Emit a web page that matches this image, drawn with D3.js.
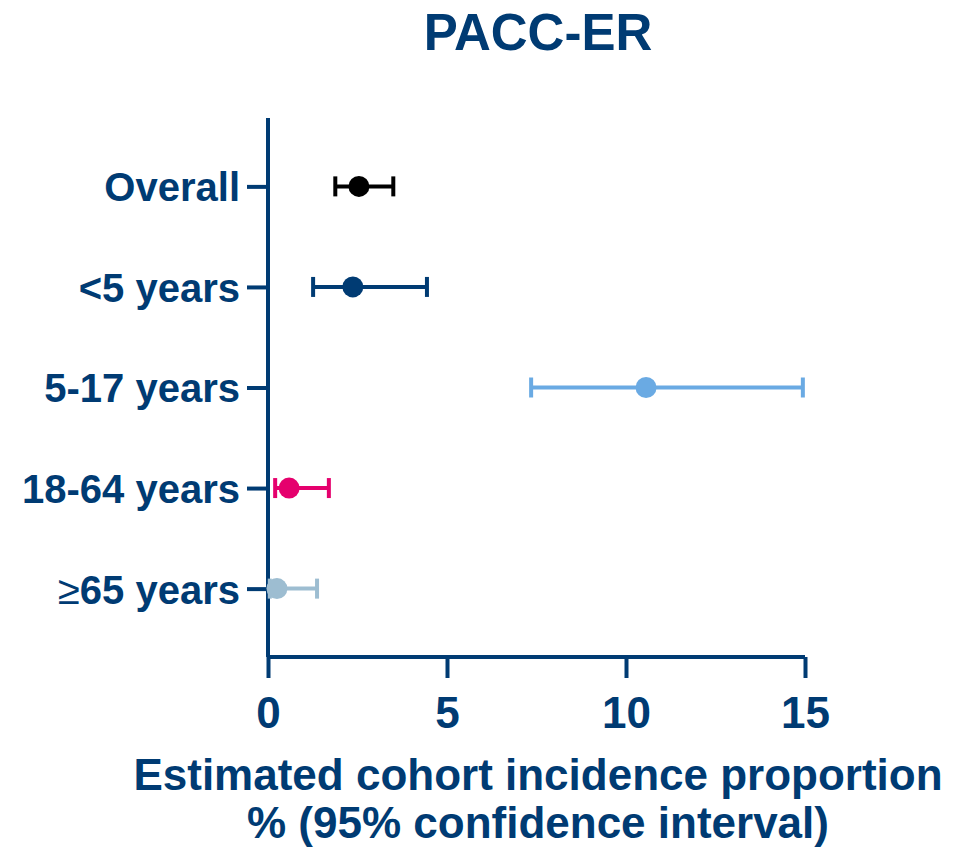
<!DOCTYPE html>
<html><head><meta charset="utf-8">
<script src="https://cdn.jsdelivr.net/npm/d3@7"></script>
<style>body{margin:0;background:#fff}svg{display:block}</style>
</head><body>
<script>
const categories = ["Overall", "<5 years", "5-17 years", "18-64 years", "\u226565 years"];
const estimates = [2.54, 2.37, 10.56, 0.59, 0.25];
const lower = [1.88, 1.26, 7.35, 0.2, 0.05];
const upper = [3.50, 4.44, 14.94, 1.70, 1.37];
const colors = ["#000000", "#003b73", "#6aaae3", "#e5006d", "#9dbdd1"];
const xTicks = [0, 5, 10, 15];

const W = 958, H = 848, navy = "#003b73";
const svg = d3.select("body").append("svg").attr("width", W).attr("height", H);
const x = d3.scaleLinear().domain([0, 15]).range([268, 805]);
const y = d3.scalePoint().domain(categories).range([118, 657]).padding(0.68);

const font = "Liberation Sans, Arial, sans-serif";

svg.append("text").attr("x", 538).attr("y", 50).attr("text-anchor", "middle")
  .attr("font-family", font).attr("font-weight", "bold").attr("font-size", 51)
  .attr("fill", navy).text("PACC-ER");

const ya = svg.append("g").attr("transform", "translate(268,0)")
  .call(d3.axisLeft(y).tickSize(21).tickPadding(7));
ya.select(".domain").attr("d", "M0,118V657");
const xa = svg.append("g").attr("transform", "translate(0,657)")
  .call(d3.axisBottom(x).tickValues(xTicks).tickSize(21).tickPadding(18).tickFormat(d3.format("d")));
xa.select(".domain").attr("d", "M268,0H805");
[ya, xa].forEach(g => {
  g.selectAll(".domain, .tick line").attr("stroke", navy).attr("stroke-width", 4);
  g.selectAll(".tick text").attr("fill", navy).attr("font-family", font)
    .attr("font-weight", "bold");
});
ya.selectAll(".tick text").attr("font-size", 40).attr("dy", "0.36em");
xa.selectAll(".tick text").attr("font-size", 44).attr("dy", "0.72em");
// render the ≥ glyph in a lighter weight, as in the reference
ya.selectAll(".tick text").filter(d => d.startsWith("\u2265")).each(function(d) {
  const t = d3.select(this).text("");
  t.append("tspan").attr("font-weight", "normal").text("\u2265");
  t.append("tspan").text(d.slice(1));
});

const rows = categories.map((c, i) => ({c, e: estimates[i], lo: lower[i], hi: upper[i], col: colors[i]}));
const g = svg.append("g");
rows.forEach(d => {
  const yy = y(d.c);
  g.append("line").attr("x1", x(d.lo)).attr("x2", x(d.hi)).attr("y1", yy).attr("y2", yy)
    .attr("stroke", d.col).attr("stroke-width", 4);
  [d.lo, d.hi].forEach(v => g.append("line").attr("x1", x(v)).attr("x2", x(v))
    .attr("y1", yy - 10).attr("y2", yy + 10).attr("stroke", d.col).attr("stroke-width", 4));
  g.append("circle").attr("cx", x(d.e)).attr("cy", yy).attr("r", 10.5).attr("fill", d.col);
});

svg.append("text").attr("x", 538).attr("y", 790).attr("text-anchor", "middle")
  .attr("font-family", font).attr("font-weight", "bold").attr("font-size", 44)
  .attr("fill", navy).text("Estimated cohort incidence proportion");
svg.append("text").attr("x", 538).attr("y", 838).attr("text-anchor", "middle")
  .attr("font-family", font).attr("font-weight", "bold").attr("font-size", 44)
  .attr("fill", navy).text("% (95% confidence interval)");
</script>
</body></html>
